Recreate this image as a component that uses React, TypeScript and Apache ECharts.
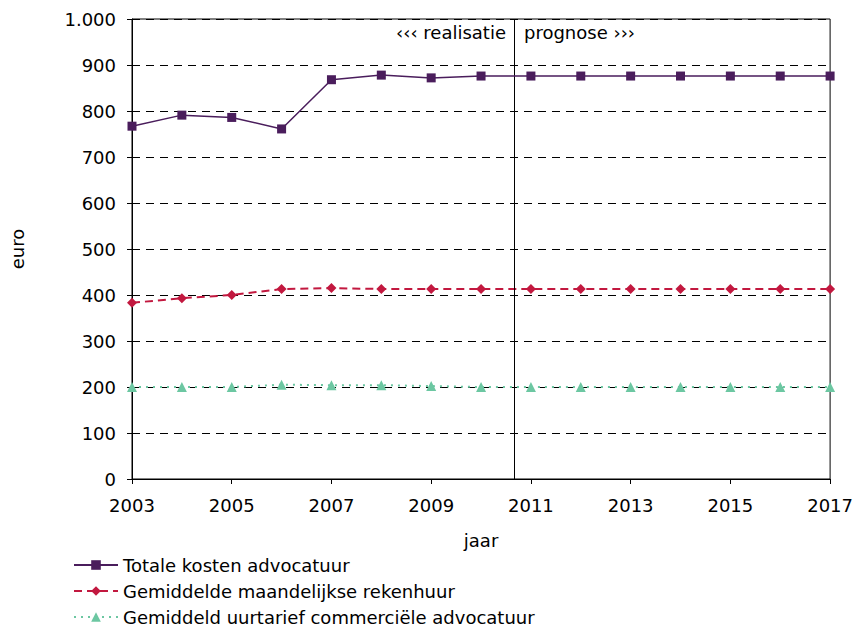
import React, { useEffect, useRef } from "react";
import * as echarts from "echarts";

const years = ["2003","2004","2005","2006","2007","2008","2009","2010","2011","2012","2013","2014","2015","2016","2017"];
const totaleKosten = [767, 791, 786, 761, 868, 878, 872, 876, 876, 876, 876, 876, 876, 876, 876];
const rekenhuur = [383, 393, 400, 413, 415, 413, 413, 413, 413, 413, 413, 413, 413, 413, 413];
const uurtarief = [200, 200, 200, 205, 204, 204, 202, 200, 200, 200, 200, 200, 200, 200, 200];
const seriesNames = [
  "Totale kosten advocatuur",
  "Gemiddelde maandelijkse rekenhuur",
  "Gemiddeld uurtarief commerciële advocatuur",
];
const splitYear = 2010.67;

const FONT = "DejaVu Sans";
const FS = 18;

export default function App() {
  const ref = useRef<HTMLDivElement>(null);
  useEffect(() => {
    if (!ref.current) return;
    const chart = echarts.init(ref.current, null, { renderer: "svg" });
    const legendTops = [551, 577, 603];
    chart.setOption({
      animation: false,
      textStyle: { fontFamily: FONT, color: "#000" },
      grid: { left: 128, right: 24, top: 19, bottom: 148, show: true, borderColor: "#000", borderWidth: 1 },
      legend: seriesNames.map((n, i) => ({
        orient: "vertical",
        left: 68,
        top: legendTops[i],
        itemWidth: 44,
        itemHeight: 12,
        itemGap: 4,
        textStyle: { fontFamily: FONT, fontSize: FS, color: "#000" },
        data: [n],
      })),
      xAxis: [
        {
          type: "category",
          data: years,
          boundaryGap: false,
          name: "jaar",
          nameLocation: "middle",
          nameGap: 52,
          nameTextStyle: { fontFamily: FONT, fontSize: FS, color: "#000" },
          axisLine: { lineStyle: { color: "#000", width: 1 } },
          axisTick: { show: true, interval: 1, length: 5, lineStyle: { color: "#000" } },
          axisLabel: { interval: 1, fontFamily: FONT, fontSize: FS, color: "#000", margin: 17 },
          splitLine: { show: false },
        },
        {
          type: "value",
          min: 2003,
          max: 2017,
          show: false,
        },
      ],
      yAxis: {
        type: "value",
        min: 0,
        max: 1000,
        interval: 100,
        name: "euro",
        nameLocation: "middle",
        nameGap: 106,
        nameRotate: 90,
        nameTextStyle: { fontFamily: FONT, fontSize: FS, color: "#000" },
        axisLine: { show: true, lineStyle: { color: "#000", width: 1 } },
        axisTick: { show: true, length: 5, lineStyle: { color: "#000" } },
        axisLabel: {
          fontFamily: FONT,
          fontSize: FS,
          color: "#000",
          margin: 16,
          formatter: (v: number) => (v >= 1000 ? v.toLocaleString("nl-NL") : String(v)),
        },
        splitLine: { show: true, lineStyle: { color: "#000", type: [8, 6], width: 1 } },
      },
      series: [
        {
          name: seriesNames[0],
          type: "line",
          data: totaleKosten,
          color: "#4a1d5c",
          symbol: "rect",
          symbolSize: 9,
          lineStyle: { color: "#4a1d5c", width: 1.5 },
          itemStyle: { color: "#4a1d5c" },
          z: 5,
        },
        {
          name: seriesNames[1],
          type: "line",
          data: rekenhuur,
          color: "#c2183f",
          symbol: "diamond",
          symbolSize: 10,
          lineStyle: { color: "#c2183f", width: 2, type: [8, 5] },
          itemStyle: { color: "#c2183f" },
          z: 4,
        },
        {
          name: seriesNames[2],
          type: "line",
          data: uurtarief,
          color: "#6cc7a2",
          symbol: "triangle",
          symbolSize: 10,
          lineStyle: { color: "#6cc7a2", width: 2, type: [2, 5] },
          itemStyle: { color: "#6cc7a2" },
          z: 3,
        },
        {
          type: "line",
          xAxisIndex: 1,
          data: [],
          silent: true,
          markLine: {
            symbol: "none",
            silent: true,
            label: { show: false },
            lineStyle: { color: "#000", type: "solid", width: 1 },
            data: [{ xAxis: splitYear }],
          },
        },
      ],
      graphic: [
        {
          type: "text",
          right: 856 - 506,
          top: 23,
          style: { text: "‹‹‹ realisatie", fontFamily: FONT, fontSize: FS, fill: "#000" },
        },
        {
          type: "text",
          left: 524,
          top: 23,
          style: { text: "prognose ›››", fontFamily: FONT, fontSize: FS, fill: "#000" },
        },
      ],
    });
    return () => chart.dispose();
  }, []);
  return <div ref={ref} style={{ position: "absolute", left: 0, top: 0, width: 856, height: 627 }} />;
}
